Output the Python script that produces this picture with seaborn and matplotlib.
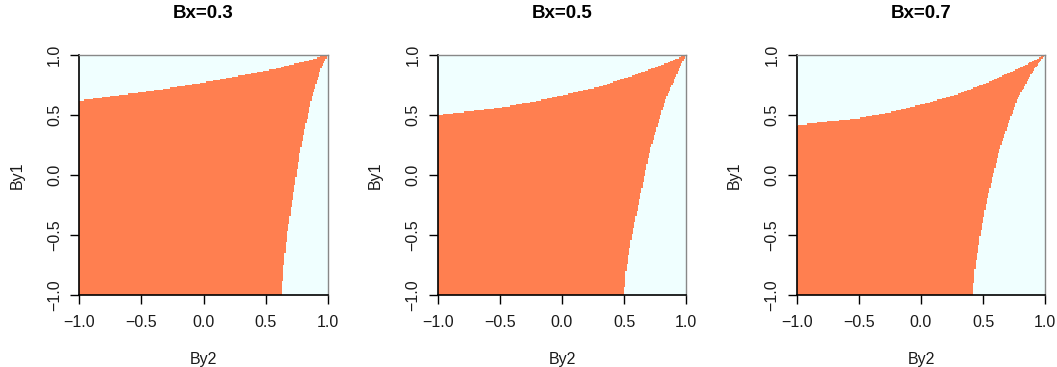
import numpy as np
import pandas as pd
import matplotlib
matplotlib.use("Agg")
import matplotlib.pyplot as plt
from matplotlib.colors import ListedColormap
import seaborn as sns

# ---- data ----
titles = ["Bx=0.3", "Bx=0.5", "Bx=0.7"]

# upper boundary of the coral region: By1 max as a function of By2
top_by2 = [-1.0, -0.77, -0.5, -0.23, 0.04, 0.30, 0.57, 0.84, 0.96, 1.0]
top_by1_p1 = [0.619, 0.653, 0.689, 0.731, 0.778, 0.828, 0.883, 0.953, 0.99, 1.0]
top_by1_p2 = [0.500, 0.528, 0.561, 0.611, 0.672, 0.736, 0.828, 0.931, 0.986, 1.0]
top_by1_p3 = [0.414, 0.444, 0.472, 0.528, 0.597, 0.675, 0.783, 0.917, 0.980, 1.0]

# right boundary of the coral region: By2 max as a function of By1
right_by1 = [-1.0, -0.8, -0.5, -0.208, 0.208, 0.625, 0.875, 1.0]
right_by2_p1 = [0.628, 0.640, 0.671, 0.715, 0.780, 0.866, 0.940, 1.0]
right_by2_p2 = [0.500, 0.515, 0.562, 0.624, 0.710, 0.831, 0.938, 1.0]
right_by2_p3 = [0.418, 0.432, 0.477, 0.530, 0.632, 0.772, 0.906, 1.0]

tops = [top_by1_p1, top_by1_p2, top_by1_p3]
rights = [right_by2_p1, right_by2_p2, right_by2_p3]

tick_vals = [-1.0, -0.5, 0.0, 0.5, 1.0]
tick_labels = ["\u22121.0", "\u22120.5", "0.0", "0.5", "1.0"]

n_cells = 200
centers = np.linspace(-1 + 1.0 / n_cells, 1 - 1.0 / n_cells, n_cells)

sns.set_style("ticks")
plt.rcParams["font.family"] = ["Liberation Sans", "DejaVu Sans"]

W, H = 1057, 367
fig = plt.figure(figsize=(W / 100, H / 100), dpi=100)
lefts = [79.3, 437.7, 796.7]
pw, ph = 248.5, 240.0
ptop = 55.0

cmap = ListedColormap(["#F0FFFF", "#FF7F50"])
txt = "#1a1a1a"

for i in range(3):
    ax = fig.add_axes([lefts[i] / W, 1 - (ptop + ph) / H, pw / W, ph / H])
    top_lim = np.interp(centers, top_by2, tops[i])        # over By2 columns
    right_lim = np.interp(centers, right_by1, rights[i])  # over By1 rows
    X, Y = np.meshgrid(centers, centers)                  # X=By2, Y=By1
    valid = (Y <= top_lim[None, :]) & (X <= right_lim[:, None])
    df = pd.DataFrame(valid.astype(float), index=np.round(centers, 3),
                      columns=np.round(centers, 3))
    df = df.iloc[::-1]  # By1 descending so that it increases upward
    sns.heatmap(df, ax=ax, cmap=cmap, vmin=0, vmax=1, cbar=False,
                xticklabels=False, yticklabels=False)
    xpos = [(v + 1) / 2 * n_cells for v in tick_vals]
    ypos = [(1 - v) / 2 * n_cells for v in tick_vals]
    ax.set_xticks(xpos)
    ax.set_xticklabels(tick_labels, fontsize=11.5, color=txt)
    ax.set_yticks(ypos)
    ax.set_yticklabels(tick_labels, fontsize=11.5, color=txt,
                       rotation=90, va="center")
    ax.tick_params(axis="both", direction="out", length=6.5, width=1,
                   color="black")
    ax.tick_params(axis="x", pad=8)
    ax.tick_params(axis="y", pad=6)
    for s in ["left", "bottom"]:
        ax.spines[s].set_visible(True)
        ax.spines[s].set_color("black")
        ax.spines[s].set_linewidth(1.2)
    for s in ["top", "right"]:
        ax.spines[s].set_visible(True)
        ax.spines[s].set_color("#888888")
        ax.spines[s].set_linewidth(1.0)
    ax.set_xlabel("By2", fontsize=11.5, labelpad=16, color=txt)
    ax.set_ylabel("By1", fontsize=11.5, labelpad=16, color=txt)
    ax.set_title(titles[i], fontsize=13.5, fontweight="bold", pad=27,
                 color="black")

fig.savefig("out.png", dpi=100)
